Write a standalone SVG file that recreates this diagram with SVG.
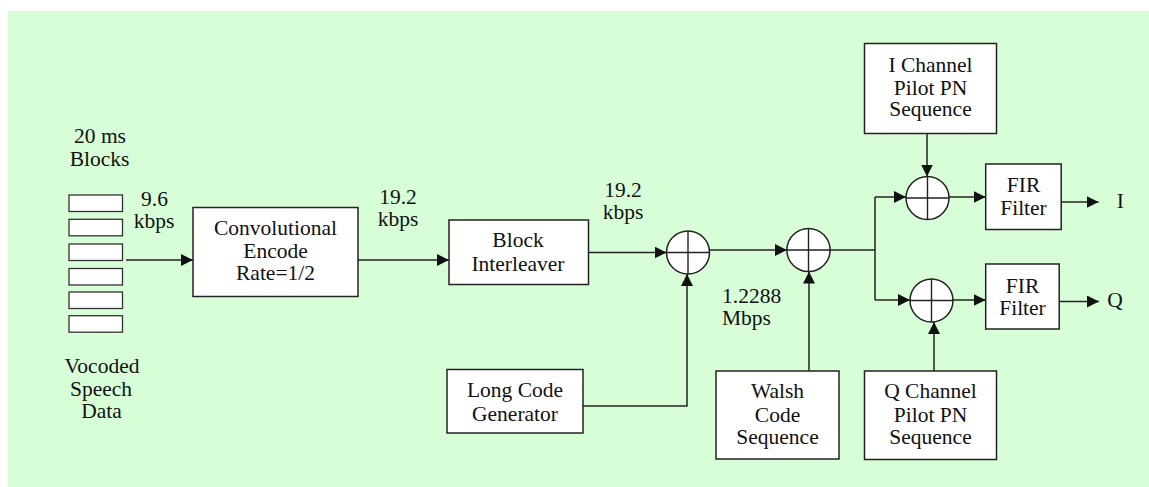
<svg xmlns="http://www.w3.org/2000/svg" width="1149" height="487" viewBox="0 0 1149 487" font-family="'Liberation Serif', 'DejaVu Serif', 'Times New Roman', Times, serif">
  <style>
    text { font-family: "Liberation Serif", "DejaVu Serif", "Times New Roman", Times, serif; font-size: 21.5px; fill: #111; }
    .c { text-anchor: middle; }
    .box { fill: #ffffff; stroke: #222; stroke-width: 1.5; }
    .blk { fill: #ffffff; stroke: #333; stroke-width: 1.3; }
    .sum { fill: #ffffff; stroke: #222; stroke-width: 1.5; }
    .cross { stroke: #222; stroke-width: 1.4; fill: none; }
    .wire { fill: none; stroke: #222; stroke-width: 1.5; }
    .arr { marker-end: url(#head); }
  </style>
  <defs>
    <marker id="head" markerUnits="userSpaceOnUse" markerWidth="12" markerHeight="12" refX="12" refY="6" orient="auto">
      <path d="M0,0 L12,6 L0,12 Z" fill="#111"/>
    </marker>
  </defs>

  <!-- backdrop -->
  <rect x="8" y="11" width="1141" height="476" fill="#d8fed8"/>

  <!-- speech frames -->
  <g id="speech-blocks">
    <text class="c" x="100" y="143">20 ms</text>
    <text class="c" x="99.5" y="166">Blocks</text>
    <rect class="blk" x="69" y="195" width="53.5" height="16.5"/>
    <rect class="blk" x="69" y="219.3" width="53.5" height="16.5"/>
    <rect class="blk" x="69" y="244" width="53.5" height="16.5"/>
    <rect class="blk" x="69" y="268.5" width="53.5" height="16.5"/>
    <rect class="blk" x="69" y="292" width="53.5" height="16.5"/>
    <rect class="blk" x="69" y="315.7" width="53.5" height="16.5"/>
    <text class="c" x="102" y="372.7">Vocoded</text>
    <text class="c" x="101" y="395.7">Speech</text>
    <text class="c" x="101.5" y="417.7">Data</text>
  </g>

  <g id="conv-encoder">
    <rect class="box" x="193" y="207.5" width="165" height="89"/>
    <text class="c" x="275.5" y="235">Convolutional</text>
    <text class="c" x="275.5" y="258">Encode</text>
    <text class="c" x="275.5" y="280">Rate=1/2</text>
  </g>

  <g id="block-interleaver">
    <rect class="box" x="449" y="220" width="139.5" height="64.5"/>
    <text class="c" x="518" y="246.7">Block</text>
    <text class="c" x="518" y="270.7">Interleaver</text>
  </g>

  <g id="long-code">
    <rect class="box" x="447" y="369.5" width="136" height="63.5"/>
    <text class="c" x="515" y="396.7">Long Code</text>
    <text class="c" x="515" y="420.7">Generator</text>
  </g>

  <g id="walsh">
    <rect class="box" x="716" y="371" width="123" height="88"/>
    <text class="c" x="777.5" y="398.3">Walsh</text>
    <text class="c" x="777.5" y="422">Code</text>
    <text class="c" x="777.5" y="444">Sequence</text>
  </g>

  <g id="i-pilot">
    <rect class="box" x="864.5" y="43.5" width="132" height="90"/>
    <text class="c" x="930.5" y="72">I Channel</text>
    <text class="c" x="930.5" y="94.5">Pilot PN</text>
    <text class="c" x="930.5" y="116">Sequence</text>
  </g>

  <g id="q-pilot">
    <rect class="box" x="864.5" y="371" width="132" height="88.5"/>
    <text class="c" x="930.5" y="398.3">Q Channel</text>
    <text class="c" x="930.5" y="422">Pilot PN</text>
    <text class="c" x="930.5" y="444">Sequence</text>
  </g>

  <g id="fir-i">
    <rect class="box" x="985.7" y="164" width="75.5" height="65.5"/>
    <text class="c" x="1023.5" y="191.7">FIR</text>
    <text class="c" x="1023.5" y="215">Filter</text>
  </g>

  <g id="fir-q">
    <rect class="box" x="985.7" y="264" width="73.5" height="65"/>
    <text class="c" x="1022.5" y="293.3">FIR</text>
    <text class="c" x="1022.5" y="315">Filter</text>
  </g>

  <!-- modulo-2 adders -->
  <g id="sum-long">
    <circle class="sum" cx="688" cy="252.5" r="21.5"/>
    <path class="cross" d="M666.5,252.5 H709.5 M688,231 V274"/>
  </g>
  <g id="sum-walsh">
    <circle class="sum" cx="808.5" cy="250" r="21.6"/>
    <path class="cross" d="M786.9,250 H830.1 M808.5,228.4 V271.6"/>
  </g>
  <g id="sum-i">
    <circle class="sum" cx="927.5" cy="198" r="21.5"/>
    <path class="cross" d="M906,198 H949 M927.5,176.5 V219.5"/>
  </g>
  <g id="sum-q">
    <circle class="sum" cx="931.5" cy="300.5" r="21.5"/>
    <path class="cross" d="M910,300.5 H953 M931.5,279 V322"/>
  </g>

  <!-- rate labels -->
  <g id="labels">
    <text class="c" x="154.5" y="206">9.6</text>
    <text class="c" x="154" y="228.3">kbps</text>
    <text class="c" x="398" y="204">19.2</text>
    <text class="c" x="398" y="226">kbps</text>
    <text class="c" x="623" y="197">19.2</text>
    <text class="c" x="623" y="219">kbps</text>
    <text x="722" y="303.3">1.2288</text>
    <text x="722" y="325">Mbps</text>
    <text x="1116.7" y="208.3">I</text>
    <text x="1107.3" y="306.7">Q</text>
  </g>

  <g id="connectors">
    <path class="wire arr" d="M126,260 H193"/>
    <path class="wire arr" d="M358,260 H449"/>
    <path class="wire arr" d="M588.5,252.5 H666.5"/>
    <path class="wire arr" d="M583,406 H687 V274"/>
    <path class="wire arr" d="M709.5,250 H786.9"/>
    <path class="wire arr" d="M809,371 V271.6"/>
    <path class="wire" d="M830.1,250 H875 M875,197 V300"/>
    <path class="wire arr" d="M875,197 H906"/>
    <path class="wire arr" d="M875,300 H910"/>
    <path class="wire arr" d="M927,133.5 V176.5"/>
    <path class="wire arr" d="M934,371 V322"/>
    <path class="wire arr" d="M949,197 H985.7"/>
    <path class="wire arr" d="M953,300 H985.7"/>
    <path class="wire arr" d="M1061.2,202 H1098.5"/>
    <path class="wire arr" d="M1059.2,301.5 H1099"/>
  </g>
</svg>
